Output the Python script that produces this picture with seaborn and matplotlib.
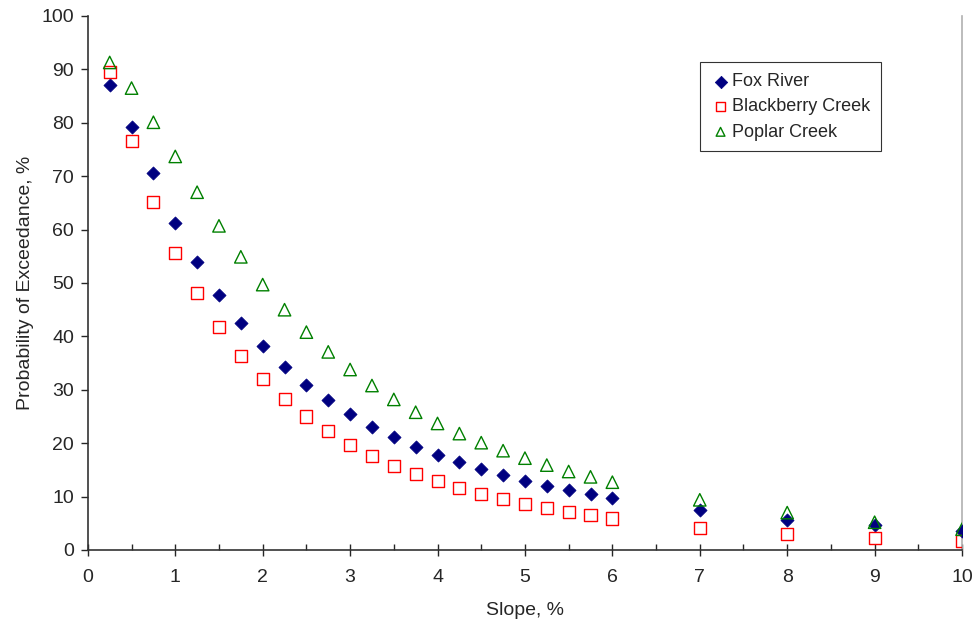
import numpy as np
import pandas as pd
import matplotlib
matplotlib.use("Agg")
import matplotlib.pyplot as plt
import seaborn as sns
from matplotlib.ticker import MultipleLocator

slope = [0.25, 0.5, 0.75, 1, 1.25, 1.5, 1.75, 2, 2.25, 2.5, 2.75, 3, 3.25, 3.5,
         3.75, 4, 4.25, 4.5, 4.75, 5, 5.25, 5.5, 5.75, 6, 7, 8, 9, 10]

fox_river = [87.1, 79.2, 70.6, 61.2, 53.9, 47.7, 42.6, 38.2, 34.2, 30.9, 28.0,
             25.4, 23.1, 21.1, 19.3, 17.8, 16.4, 15.1, 14.0, 13.0, 12.0, 11.2,
             10.4, 9.7, 7.4, 5.7, 4.6, 3.6]
blackberry_creek = [89.6, 76.5, 65.2, 55.6, 48.1, 41.7, 36.4, 32.0, 28.2, 25.0,
                    22.2, 19.7, 17.6, 15.8, 14.2, 12.9, 11.6, 10.5, 9.5, 8.6,
                    7.8, 7.1, 6.5, 5.9, 4.1, 3.0, 2.2, 1.7]
poplar_creek = [91.3, 86.5, 80.1, 73.7, 67.0, 60.7, 54.9, 49.7, 45.0, 40.8,
                37.1, 33.8, 30.8, 28.2, 25.8, 23.7, 21.8, 20.1, 18.6, 17.2,
                15.9, 14.7, 13.7, 12.7, 9.4, 7.0, 5.2, 3.9]

sns.set_style("white")
plt.rcParams["font.family"] = ["Liberation Sans", "DejaVu Sans"]

fig = plt.figure(figsize=(9.76, 6.29), dpi=100)
ax = fig.add_axes([0.090, 0.1256, 0.8957, 0.849])

df = pd.DataFrame({"slope": slope, "fox": fox_river,
                   "blackberry": blackberry_creek, "poplar": poplar_creek})

sns.scatterplot(data=df, x="slope", y="fox", marker="D", s=45,
                color="#000080", edgecolor="#000080", linewidth=0.5,
                label="Fox River", ax=ax, zorder=3)
sns.scatterplot(data=df, x="slope", y="blackberry", marker="s", s=75,
                facecolor="none", edgecolor="#FF0000", linewidth=1.0,
                label="Blackberry Creek", ax=ax, zorder=3)
sns.scatterplot(data=df, x="slope", y="poplar", marker="^", s=80,
                facecolor="none", edgecolor="#008000", linewidth=1.0,
                label="Poplar Creek", ax=ax, zorder=3)

ax.set_xlim(0, 10)
ax.set_ylim(0, 100)
ax.xaxis.set_major_locator(MultipleLocator(1))
ax.xaxis.set_minor_locator(MultipleLocator(0.5))
ax.yaxis.set_major_locator(MultipleLocator(10))

ax.set_xlabel("Slope, %", fontsize=14, labelpad=12)
ax.set_ylabel("Probability of Exceedance, %", fontsize=14, labelpad=5)

ax.tick_params(axis="x", which="major", direction="inout", length=9, width=1,
               labelsize=14, bottom=True, pad=9)
ax.tick_params(axis="x", which="minor", direction="in", length=4, width=1,
               bottom=True)
ax.tick_params(axis="y", which="major", direction="out", length=5, width=1,
               labelsize=14, left=True, pad=5)

for side in ["left", "bottom"]:
    ax.spines[side].set_color("#333333")
    ax.spines[side].set_linewidth(1.2)
ax.spines["top"].set_visible(False)
ax.spines["right"].set_color("#b0b0b0")
ax.spines["right"].set_linewidth(1.2)
for sp in ax.spines.values():
    sp.set_zorder(1)

leg = ax.legend(loc="upper left", bbox_to_anchor=(0.700, 0.913), fontsize=13,
                frameon=True, fancybox=False, edgecolor="black",
                handletextpad=0.1, borderpad=0.6, labelspacing=0.45,
                handlelength=1.1, borderaxespad=0)
leg.get_frame().set_linewidth(0.8)
for h in leg.legend_handles:
    h.set_sizes([40])

fig.savefig("out.png", dpi=100)
